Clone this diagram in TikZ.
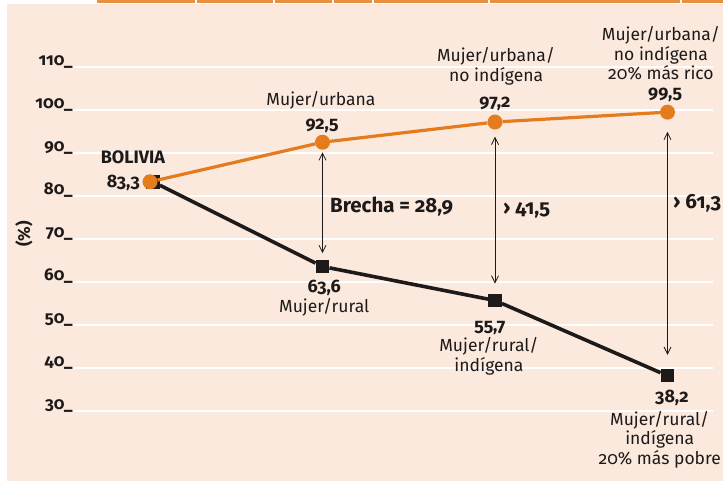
\documentclass[tikz,border=0pt]{standalone}
\usepackage{fontspec}
\setmainfont[Numbers=OldStyle]{Fira Sans}
\usetikzlibrary{arrows.meta}
\definecolor{fondo}{RGB}{250,233,220}
\definecolor{naranja}{RGB}{228,124,30}
\definecolor{tinta}{RGB}{30,26,26}
\tikzset{
  etiqueta/.style={align=center, inner sep=0pt, text=tinta, font=\fontsize{17.5}{19.5}\selectfont},
  valor/.style={inner sep=0pt, text=tinta, font=\fontsize{18}{20}\selectfont\bfseries},
  cifra/.style={inner sep=0pt, text=tinta, font=\fontsize{20.5}{22}\selectfont\bfseries},
  marca/.style={inner sep=0pt, text=tinta, font=\fontsize{17}{19}\selectfont\bfseries},
  rejilla/.style={white, line width=1.4pt},
  urbano/.style={circle, fill=naranja, minimum size=15pt, inner sep=0pt},
  rural/.style={rectangle, fill=tinta, minimum size=13.5pt, inner sep=0pt},
  linea urbana/.style={naranja, line width=3.2pt},
  linea rural/.style={tinta, line width=3.6pt},
  brecha/.style={{Straight Barb[length=7pt,width=7pt]}-{Straight Barb[length=7pt,width=7pt]}, tinta, line width=0.8pt},
}
\begin{document}
\begin{tikzpicture}[x=172.5pt, y=4.3pt]
\useasboundingbox (-0.8696,13.72) rectangle (3.3217,125.58);

		% Fondo
		\fill[fondo] (-0.829,13.72) rectangle (3.3217,124.65);
		\fill[naranja!85] (-0.3072,124.88) rectangle (3.3217,125.58);
		\foreach \g in {0.261,0.713,1.055,1.287,1.959,3.072}
		\fill[white] (\g,124.6) rectangle ++(0.012,1);

		% Rejilla
		\foreach \v in {30,40,...,110} {
		\draw[rejilla] (-0.4464,\v) -- (3.2638,\v);
		\node[marca, anchor=base east] at (-0.4464,\v+0.45) {\v\_};
		}
		\node[marca, rotate=90] (eje) at (-0.7304,71.16) {(\%)};

		% Puntos
		\node[rural] (r0) at (0.017,83.3) {};
		\node[rural] (r1) at (1,63.6) {};
		\node[rural] (r2) at (2,55.7) {};
		\node[rural] (r3) at (3,38.2) {};
		\draw[linea rural] (r0) -- (r1) -- (r2) -- (r3);
		\node[urbano] (u0) at (0,83.3) {};
		\node[urbano] (u1) at (1,92.5) {};
		\node[urbano] (u2) at (2,97.2) {};
		\node[urbano] (u3) at (3,99.5) {};
		\draw[linea urbana] (u0) -- (u1) -- (u2) -- (u3);

		% Brechas
		\draw[brecha, shorten <=2.5pt, shorten >=6.5pt] (u1) -- (r1);
		\draw[brecha, shorten <=7pt, shorten >=10pt] (u2) -- (r2);
		\draw[brecha, shorten <=12pt, shorten >=14pt] (u3) -- (r3);
		\node[cifra, anchor=base west] (b1) at (1.043,76.05) {Brecha = 28,9};
		\node[cifra, anchor=base west] (b2) at (2.046,75.81) {› 41,5};
		\node[cifra, anchor=base west] (b3) at (3.032,76.98) {› 61,3};

		% Textos arriba
		\node[valor, anchor=base] (tb) at (-0.099,87.44) {BOLIVIA};
		\node[valor, anchor=base east] (v0) at (-0.058,82.09) {83,3};
		\node[etiqueta, anchor=base] (t1) at (0.991,100.93) {Mujer/urbana};
		\node[valor, anchor=base] (v1) at (0.997,95.35) {92,5};
		\node[etiqueta, anchor=base] (t2) at (2.006,106.74) {Mujer/urbana/\\no indígena};
		\node[valor, anchor=base] (v2) at (2,100.47) {97,2};
		\node[etiqueta, anchor=base] (t3) at (2.962,106.98) {Mujer/urbana/\\no indígena\\20\% más rico};
		\node[valor, anchor=base] (v3) at (2.986,102.56) {99,5};

		% Textos abajo
		\node[valor, anchor=base] (w1) at (1.01,57.67) {63,6};
		\node[etiqueta, anchor=base] (s1) at (1.01,53.02) {Mujer/rural};
		\node[valor, anchor=base] (w2) at (1.971,48.6) {55,7};
		\node[etiqueta, anchor=base] (s2) at (1.965,39.3) {Mujer/rural/\\indígena};
		\node[valor, anchor=base] (w3) at (3.026,32.09) {38,2};
		\node[etiqueta, anchor=base] (s3) at (2.955,17.67) {Mujer/rural/\\indígena\\20\% más pobre};
\end{tikzpicture}
\end{document}
